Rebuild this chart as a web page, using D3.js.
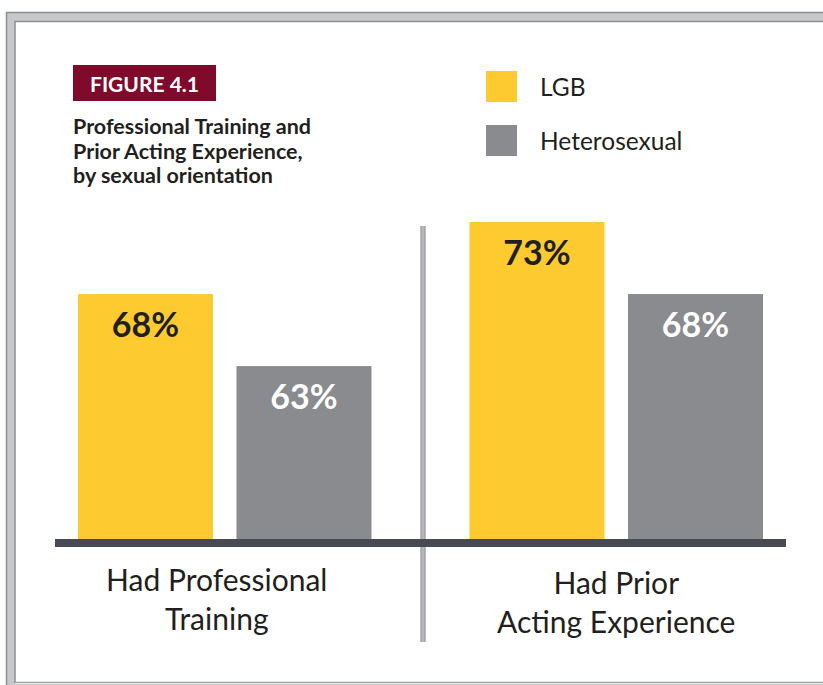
<!DOCTYPE html>
<html>
<head>
<meta charset="utf-8">
<script src="https://cdn.jsdelivr.net/npm/d3@7"></script>
<style>
  html, body { margin: 0; padding: 0; background: #fff; }
  svg { display: block; }
</style>
</head>
<body>
<svg id="chart" width="823" height="685"></svg>
<script>
// ---- data ----
const categories = ["Had Professional Training", "Had Prior Acting Experience"];
const categoryLines = [["Had Professional", "Training"], ["Had Prior", "Acting Experience"]];
const seriesNames = ["LGB", "Heterosexual"];
const lgbValues = [68, 73];
const heteroValues = [63, 68];
const figureLabel = "FIGURE 4.1";
const titleLines = ["Professional Training and", "Prior Acting Experience,", "by sexual orientation"];

// ---- style ----
const colors = { LGB: "#fdcb30", Heterosexual: "#898b8f" };
const labelColors = { LGB: "#231f20", Heterosexual: "#ffffff" };
const font = "Lato, 'Open Sans', sans-serif";

const svg = d3.select("#chart");

// frame
svg.append("rect").attr("x", 6.5).attr("y", 12.5).attr("width", 830).attr("height", 700)
  .attr("fill", "#c6c8c9").attr("stroke", "#8d9093").attr("stroke-width", 1.5);
svg.append("rect").attr("x", 15).attr("y", 21.5).attr("width", 820).attr("height", 661)
  .attr("fill", "#ffffff").attr("stroke", "#8d9093").attr("stroke-width", 1.5);
svg.append("line").attr("x1", 15).attr("x2", 823).attr("y1", 683.5).attr("y2", 683.5)
  .attr("stroke", "#e4e4e4").attr("stroke-width", 1.5);

// scales
const x0 = d3.scaleBand().domain(categories).range([78, 763]).paddingInner(0.2503).paddingOuter(0);
const x1 = d3.scaleBand().domain(seriesNames).range([0, x0.bandwidth()]).paddingInner(0.148);
const y = d3.scaleLinear().domain([51, 73]).range([539, 222]);

const rows = categories.map((c, i) => ({
  cat: c,
  vals: [{ s: "LGB", v: lgbValues[i] }, { s: "Heterosexual", v: heteroValues[i] }]
}));

// divider
const divX = 423;
svg.append("rect").attr("x", divX - 2.5).attr("y", 226).attr("width", 5).attr("height", 416)
  .attr("fill", "#b5b7ba");
svg.append("rect").attr("x", divX - 2.5).attr("y", 226).attr("width", 1).attr("height", 416).attr("fill", "#9a9c9f");
svg.append("rect").attr("x", divX + 1.5).attr("y", 226).attr("width", 1).attr("height", 416).attr("fill", "#9a9c9f");

// bars
const g = svg.append("g");
const groups = g.selectAll("g.grp").data(rows).join("g")
  .attr("transform", d => `translate(${x0(d.cat)},0)`);
groups.selectAll("rect").data(d => d.vals).join("rect")
  .attr("x", d => x1(d.s)).attr("width", x1.bandwidth())
  .attr("y", d => y(d.v)).attr("height", d => y.range()[0] - y(d.v))
  .attr("fill", d => colors[d.s]);
groups.selectAll("text").data(d => d.vals).join("text")
  .attr("x", d => x1(d.s) + x1.bandwidth() / 2)
  .attr("y", d => y(d.v) + 43)
  .attr("text-anchor", "middle")
  .attr("font-family", font).attr("font-weight", 700).attr("font-size", 34)
  .attr("fill", d => labelColors[d.s])
  .text(d => d.v + "%");

// baseline
svg.append("rect").attr("x", 55).attr("y", 539).attr("width", 731).attr("height", 8).attr("fill", "#474a53");

// category labels
const labelDx = [-8, 0];
categories.forEach((c, i) => {
  const cx = x0(c) + x0.bandwidth() / 2 + labelDx[i];
  categoryLines[i].forEach((ln, j) => {
    svg.append("text").attr("x", cx).attr("y", 591 + i * 3 + j * 39)
      .attr("text-anchor", "middle").attr("font-family", font).attr("font-size", 30)
      .attr("fill", "#231f20").text(ln);
  });
});

// figure label
svg.append("rect").attr("x", 73).attr("y", 65).attr("width", 143).attr("height", 36).attr("fill", "#7f0a2c");
svg.append("text").attr("x", 90).attr("y", 92).attr("font-family", font).attr("font-weight", 700)
  .attr("font-size", 21).attr("fill", "#ffffff").text(figureLabel);

// title
titleLines.forEach((t, i) => {
  svg.append("text").attr("x", 73).attr("y", 134 + i * 24.5).attr("font-family", font)
    .attr("font-weight", 700).attr("font-size", 21.5).attr("fill", "#231f20").text(t);
});

// legend
seriesNames.forEach((s, i) => {
  svg.append("rect").attr("x", 486).attr("y", 71 + i * 54).attr("width", 31).attr("height", 31).attr("fill", colors[s]);
  svg.append("text").attr("x", 540).attr("y", 96 + i * 54).attr("font-family", font)
    .attr("font-size", 24.5).attr("fill", "#231f20").text(s);
});
</script>
</body>
</html>
